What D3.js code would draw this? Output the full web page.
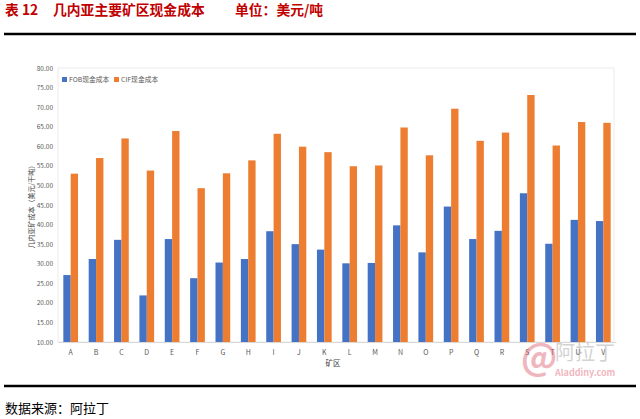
<!DOCTYPE html>
<html lang="zh">
<head>
<meta charset="UTF-8">
<title>几内亚主要矿区现金成本</title>
<script src="https://cdn.jsdelivr.net/npm/d3@7"></script>
<style>
    body { margin: 0; background: #fff; }
    text { font-family: "Noto Sans CJK SC", "Liberation Sans", sans-serif; }
</style>
</head>
<body>
<div id="chart"></div>
<script>
    // 数据
    var mines = ["A","B","C","D","E","F","G","H","I","J","K","L","M","N","O","P","Q","R","S","T","U","V"];
    var fob = [27.1,31.2,36.1,21.9,36.3,26.3,30.3,31.2,38.3,35.0,33.6,30.1,30.2,39.8,32.9,44.6,36.3,38.4,48.0,35.1,41.2,40.9];
    var cif = [53.0,57.0,62.0,53.8,63.9,49.3,53.1,56.4,63.2,59.9,58.5,54.9,55.1,64.8,57.7,69.6,61.4,63.5,73.1,60.2,66.2,66.0];
    var seriesNames = ["FOB现金成本", "CIF现金成本"];
    var yTicks = [10,15,20,25,30,35,40,45,50,55,60,65,70,75,80];

    var W = 640, H = 419;
    var blue = "#4472c4", orange = "#ed7d31";

    var svg = d3.select("#chart").append("svg")
        .attr("width", W)
        .attr("height", H);

    // 标题
    var title = svg.append("g").attr("fill", "#c00000").attr("font-weight", "bold").attr("font-size", 13.8);
    title.append("text").attr("x", 5).attr("y", 15).text("表 12");
    title.append("text").attr("x", 53).attr("y", 15).text("几内亚主要矿区现金成本");
    title.append("text").attr("x", 235).attr("y", 15).text("单位：美元/吨");

    svg.append("line").attr("x1", 4).attr("x2", 636).attr("y1", 34).attr("y2", 34)
        .attr("stroke", "#000").attr("stroke-width", 2.5);
    svg.append("line").attr("x1", 4).attr("x2", 636).attr("y1", 386).attr("y2", 386)
        .attr("stroke", "#000").attr("stroke-width", 2.5);
    svg.append("text").attr("x", 5).attr("y", 413).attr("font-size", 13).attr("fill", "#000")
        .text("数据来源：阿拉丁");

    // 比例尺
    var x = d3.scaleBand().domain(mines).range([58, 616]);
    var y = d3.scaleLinear().domain([10, 80]).range([342, 68]);
    var bw = x.bandwidth() * 0.29;

    // 绘图区边框
    svg.append("rect").attr("x", 58).attr("y", 68).attr("width", 556).attr("height", 274)
        .attr("fill", "none").attr("stroke", "#e6e6e6").attr("stroke-width", 0.8);

    var gy = svg.append("g").attr("transform", "translate(58,0)")
        .call(d3.axisLeft(y).tickValues(yTicks).tickFormat(d3.format(".2f")).tickSize(0).tickPadding(5));
    gy.select(".domain").remove();
    gy.selectAll("text").attr("font-size", 6.5).attr("fill", "#595959").attr("font-family", "Liberation Sans, sans-serif");

    var gx = svg.append("g").attr("transform", "translate(0,342)")
        .call(d3.axisBottom(x).tickSize(0).tickPadding(8));
    gx.select(".domain").attr("stroke", "#d9d9d9");
    gx.selectAll("text").attr("font-size", 7).attr("fill", "#595959").attr("font-family", "Liberation Sans, sans-serif");

    // 柱子
    svg.append("g").selectAll("rect").data(mines).join("rect")
        .attr("x", function(d) { return x(d) + x.bandwidth() / 2 - bw; })
        .attr("y", function(d, i) { return y(fob[i]); })
        .attr("width", bw)
        .attr("height", function(d, i) { return y(10) - y(fob[i]); })
        .attr("fill", blue);
    svg.append("g").selectAll("rect").data(mines).join("rect")
        .attr("x", function(d) { return x(d) + x.bandwidth() / 2; })
        .attr("y", function(d, i) { return y(cif[i]); })
        .attr("width", bw)
        .attr("height", function(d, i) { return y(10) - y(cif[i]); })
        .attr("fill", orange);

    // 轴标题
    svg.append("text").attr("x", 333).attr("y", 366).attr("text-anchor", "middle")
        .attr("font-size", 7.5).attr("fill", "#404040").text("矿区");
    svg.append("text").attr("transform", "translate(34,205) rotate(-90)").attr("text-anchor", "middle")
        .attr("font-size", 7).attr("fill", "#404040").text("几内亚矿成本（美元/干吨）");

    // 图例
    var lg = svg.append("g").attr("transform", "translate(62,80)");
    [blue, orange].forEach(function(c, i) {
        var g = lg.append("g").attr("transform", "translate(" + (i * 52) + ",0)");
        g.append("rect").attr("x", 0).attr("y", -3).attr("width", 5).attr("height", 5).attr("fill", c);
        g.append("text").attr("x", 7).attr("y", 2).attr("font-size", 6.8).attr("fill", "#595959").text(seriesNames[i]);
    });

    // 水印
    var wm = svg.append("g").attr("opacity", 0.45);
    wm.append("text").attr("x", 521).attr("y", 370).attr("font-size", 36).attr("font-weight", "bold")
        .attr("fill", "#e06070").attr("font-family", "Liberation Sans, sans-serif").text("@");
    wm.append("text").attr("x", 555).attr("y", 360).attr("font-size", 20)
        .attr("fill", "#a0a0a0").attr("font-family", "Noto Sans CJK SC").text("阿拉丁");
    wm.append("text").attr("x", 555).attr("y", 376).attr("font-size", 9).attr("font-weight", "bold")
        .attr("fill", "#e06070").attr("font-family", "Liberation Sans, sans-serif").text("Aladdiny.com");
</script>
</body>
</html>
